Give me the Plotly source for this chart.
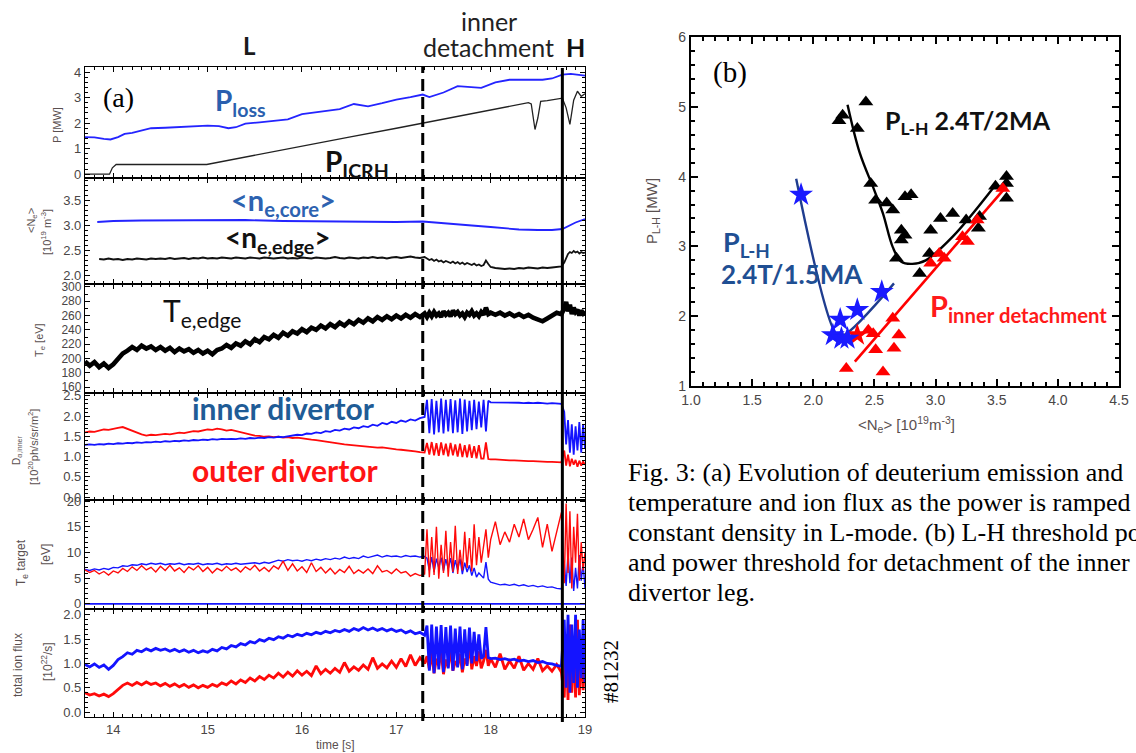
import plotly.graph_objects as go

W, H = 1136, 753

# ---------------- (a) time bases [s] ----------------
t_a = [13.70, 13.75, 13.80, 13.85, 13.90, 13.95, 14.00, 14.05, 14.10, 14.15,
       14.20, 14.25, 14.30, 14.35, 14.40, 14.45, 14.50, 14.55, 14.60, 14.65,
       14.70, 14.75, 14.80, 14.85, 14.90, 14.95, 15.00, 15.05, 15.10, 15.15,
       15.20, 15.25, 15.30, 15.35, 15.40, 15.45, 15.50, 15.55, 15.60, 15.65,
       15.70, 15.75, 15.80, 15.85, 15.90, 15.95, 16.00, 16.05, 16.10, 16.15,
       16.20, 16.25, 16.30, 16.35, 16.40, 16.45, 16.50, 16.55, 16.60, 16.65,
       16.70, 16.75, 16.80, 16.85, 16.90, 16.95, 17.00, 17.05, 17.10, 17.15,
       17.20, 17.25, 17.30]
t_osc = [17.325, 17.35, 17.375, 17.40, 17.425, 17.45, 17.475, 17.50, 17.525, 17.55,
         17.575, 17.60, 17.625, 17.65, 17.675, 17.70, 17.725, 17.75, 17.775, 17.80,
         17.825, 17.85, 17.875, 17.90, 17.925, 17.95, 17.975, 18.00]
t_b = [18.05, 18.10, 18.15, 18.20, 18.25, 18.30, 18.35, 18.40, 18.45, 18.50,
       18.55, 18.60, 18.65, 18.70, 18.75]
t_h = [18.78, 18.80, 18.82, 18.84, 18.86, 18.88, 18.90, 18.92, 18.94, 18.96,
       18.98, 19.00]
t_full = t_a + t_osc + t_b + t_h

t_detach = 17.28
t_LH = 18.76

# P [MW]
t_ploss = [13.70, 13.80, 13.90, 13.97, 14.05, 14.12, 14.20, 14.30, 14.40, 14.55,
           14.70, 14.85, 15.00, 15.12, 15.22, 15.30, 15.40, 15.55, 15.70, 15.85,
           16.00, 16.20, 16.40, 16.55, 16.70, 16.85, 17.00, 17.15, 17.28, 17.35,
           17.50, 17.65, 17.80, 17.90, 18.05, 18.20, 18.40, 18.55, 18.65, 18.76,
           18.85, 19.00]
p_loss = [1.45, 1.44, 1.38, 1.36, 1.45, 1.58, 1.62, 1.72, 1.80, 1.82,
          1.84, 1.86, 1.90, 1.88, 1.80, 1.84, 1.98, 2.03, 2.08, 2.15,
          2.35, 2.45, 2.55, 2.75, 2.66, 2.78, 2.92, 3.02, 3.12, 3.02,
          3.20, 3.45, 3.42, 3.38, 3.60, 3.70, 3.70, 3.70, 3.75, 3.90,
          3.93, 3.86]
t_icrh = [13.70, 13.96, 13.99, 14.03, 14.99, 15.50, 16.00, 16.50, 17.00, 17.28,
          17.80, 18.20, 18.40, 18.43, 18.47, 18.50, 18.53, 18.60, 18.76, 18.80,
          18.84, 18.88, 18.92, 18.96, 19.00]
p_icrh = [0.0, 0.0, 0.25, 0.38, 0.38, 0.75, 1.10, 1.45, 1.80, 2.00,
          2.35, 2.65, 2.80, 2.75, 1.75, 2.20, 2.85, 2.88, 2.98, 2.60,
          1.95, 2.90, 3.25, 3.05, 3.15]

# <N_e> [1e19 m^-3]
t_necore = [13.83, 14.0, 14.3, 14.6, 15.0, 15.4, 15.8, 16.2, 16.6, 17.0,
            17.28, 17.45, 17.6, 17.8, 18.0, 18.15, 18.3, 18.5, 18.65, 18.76,
            18.82, 18.9, 19.0]
ne_core = [3.06, 3.08, 3.09, 3.09, 3.09, 3.10, 3.08, 3.07, 3.06, 3.06,
           3.07, 3.04, 3.02, 2.99, 2.96, 2.93, 2.91, 2.90, 2.90, 2.92,
           2.98, 3.05, 3.12]
ne_edge = [None, None, None, 2.32, 2.31, 2.33, 2.31, 2.32, 2.30, 2.32,
           2.31, 2.33, 2.32, 2.31, 2.33, 2.32, 2.33, 2.32, 2.34, 2.32,
           2.33, 2.34, 2.32, 2.34, 2.33, 2.35, 2.33, 2.34, 2.33, 2.35,
           2.34, 2.33, 2.35, 2.34, 2.33, 2.35, 2.34, 2.33, 2.35, 2.34,
           2.33, 2.34, 2.35, 2.33, 2.34, 2.33, 2.35, 2.34, 2.33, 2.35,
           2.34, 2.33, 2.34, 2.36, 2.34, 2.33, 2.35, 2.34, 2.33, 2.35,
           2.34, 2.36, 2.34, 2.35, 2.33, 2.35, 2.36, 2.34, 2.35, 2.37,
           2.35, 2.34, 2.36,
           2.33, 2.30, 2.32, 2.28, 2.31, 2.27, 2.29, 2.25, 2.28, 2.26,
           2.24, 2.27, 2.23, 2.26, 2.22, 2.25, 2.21, 2.24, 2.22, 2.20,
           2.23, 2.19, 2.21, 2.18, 2.20, 2.29, 2.22, 2.16,
           2.14, 2.13, 2.12, 2.13, 2.12, 2.14, 2.13, 2.15, 2.14, 2.13,
           2.15, 2.14, 2.15, 2.16, 2.17,
           2.25, 2.35, 2.42, 2.46, 2.44, 2.48, 2.45, 2.47, 2.43, 2.46,
           2.44, 2.45]

# T_e edge [eV]
te_edge = [196, 190, 195, 188, 193, 187, 192, 199, 207, 211,
           216, 212, 218, 214, 217, 212, 216, 211, 215, 209,
           214, 210, 213, 208, 212, 207, 211, 206, 212, 214,
           219, 215, 221, 218, 224, 220, 227, 223, 230, 227,
           233, 229, 236, 232, 238, 235, 241, 237, 243, 240,
           246, 242, 248, 244, 250, 246, 252, 248, 254, 250,
           256, 252, 258, 254, 259, 255, 260, 256, 261, 257,
           262, 258, 263,
           258, 264, 259, 265, 260, 263, 258, 266, 261, 264,
           259, 267, 262, 265, 260, 263, 258, 264, 261, 266,
           260, 263, 259, 265, 261, 271, 262, 264,
           261, 264, 260, 263, 259, 262, 258, 261, 257, 254,
           252, 256, 261, 264, 262,
           270, 279, 266, 275, 262, 271, 265, 268, 260, 267,
           263, 266]

# D_alpha [1e20 ph/s/sr/m2]
d_inner = [1.29, 1.30, 1.29, 1.31, 1.30, 1.32, 1.31, 1.33, 1.32, 1.34,
           1.33, 1.35, 1.34, 1.36, 1.35, 1.37, 1.36, 1.38, 1.37, 1.39,
           1.38, 1.40, 1.39, 1.41, 1.40, 1.42, 1.41, 1.43, 1.42, 1.44,
           1.43, 1.44, 1.43, 1.45, 1.44, 1.46, 1.45, 1.47, 1.46, 1.48,
           1.47, 1.49, 1.48, 1.50, 1.51, 1.54, 1.53, 1.57, 1.56, 1.60,
           1.58, 1.63, 1.61, 1.66, 1.64, 1.69, 1.67, 1.72, 1.70, 1.75,
           1.73, 1.79, 1.76, 1.83, 1.80, 1.86, 1.83, 1.89, 1.86, 1.92,
           1.89, 1.95, 1.98,
           2.40, 1.58, 2.42, 1.55, 2.38, 1.60, 2.43, 1.57, 2.40, 1.62,
           2.42, 1.58, 2.39, 1.60, 2.43, 1.56, 2.41, 1.62, 2.38, 1.65,
           2.40, 1.68, 2.36, 1.72, 2.40, 1.62, 2.38, 2.34,
           2.34, 2.33, 2.34, 2.33, 2.34, 2.33, 2.32, 2.33, 2.32, 2.33,
           2.32, 2.31, 2.32, 2.31, 2.30,
           2.10, 1.30, 1.90, 1.10, 1.80, 1.05, 1.75, 1.15, 1.85, 1.10,
           1.80, 1.20]
d_outer = [1.60, 1.62, 1.61, 1.64, 1.67, 1.66, 1.69, 1.71, 1.73, 1.68,
           1.63, 1.58, 1.55, 1.52, 1.54, 1.53, 1.55, 1.56, 1.55, 1.57,
           1.59, 1.58, 1.61, 1.63, 1.62, 1.65, 1.67, 1.66, 1.69, 1.67,
           1.64, 1.66, 1.63, 1.60, 1.57, 1.55, 1.52, 1.51, 1.49, 1.50,
           1.48, 1.49, 1.47, 1.48, 1.46, 1.47, 1.45, 1.44, 1.42, 1.41,
           1.39, 1.38, 1.36, 1.34, 1.32, 1.30, 1.29, 1.28, 1.27, 1.26,
           1.25, 1.24, 1.22, 1.23, 1.21, 1.20, 1.18, 1.17, 1.16, 1.14,
           1.13, 1.11, 1.10,
           1.34, 1.05, 1.36, 1.03, 1.33, 1.02, 1.35, 1.04, 1.32, 1.01,
           1.34, 1.03, 1.30, 1.00, 1.32, 0.99, 1.28, 0.98, 1.30, 0.97,
           1.26, 0.96, 1.28, 0.95, 0.95, 1.35, 0.94, 0.93,
           0.93, 0.92, 0.92, 0.91, 0.91, 0.90, 0.90, 0.89, 0.89, 0.88,
           0.88, 0.87, 0.87, 0.86, 0.86,
           1.15, 0.78, 1.05, 0.76, 0.95, 0.80, 0.92, 0.75, 0.90, 0.78,
           0.88, 0.80]

# T_e target [eV]
tt_outer = [6.6, 6.1, 6.5, 5.8, 6.3, 5.6, 6.4, 6.0, 6.9, 6.3,
            7.2, 6.5, 7.4, 6.6, 7.1, 6.2, 7.3, 6.5, 7.5, 6.4,
            7.0, 6.1, 7.2, 6.6, 7.4, 6.3, 7.1, 6.0, 6.9, 6.4,
            7.3, 6.5, 7.0, 6.2, 7.2, 6.6, 7.5, 6.4, 7.1, 6.3,
            7.4, 6.8, 8.3, 6.5, 7.8, 6.4, 7.2, 6.1, 8.0, 6.3,
            7.1, 6.0, 6.9, 5.8, 6.7, 6.1, 7.3, 5.9, 6.6, 6.0,
            6.8, 5.9, 7.4, 6.2, 6.5, 5.9, 6.8, 6.0, 6.3, 5.4,
            5.9, 5.5, 5.8,
            14.5, 5.2, 13.0, 5.6, 15.0, 4.9, 11.5, 6.0, 14.2, 5.3,
            12.0, 6.2, 15.2, 5.8, 10.5, 6.5, 14.0, 7.0, 12.8, 6.3,
            15.5, 7.5, 13.0, 8.0, 11.0, 14.5, 9.0, 12.5,
            16.0, 11.5, 14.0, 12.0, 15.5, 13.0, 16.5, 12.5, 14.5, 16.8,
            11.0, 15.5, 10.2, 14.0, 17.8,
            4.0, 19.5, 6.0, 18.0, 3.0, 15.0, 8.0, 17.5, 4.5, 12.0,
            6.5, 10.0]
tt_inner = [6.7, 6.5, 6.8, 6.6, 6.9, 6.7, 7.1, 7.0, 7.4, 7.3,
            7.6, 7.5, 7.8, 7.6, 7.9, 7.7, 7.9, 7.6, 7.8, 7.7,
            7.9, 7.6, 7.8, 7.7, 7.9, 7.6, 7.8, 7.7, 7.9, 7.6,
            7.8, 7.7, 7.9, 7.7, 7.8, 7.9, 8.0, 7.8, 8.1, 7.9,
            8.2, 8.5, 8.3, 8.6, 8.4, 8.5, 8.3, 8.6, 8.4, 8.7,
            8.5, 8.8, 8.6, 8.9, 8.7, 9.1, 8.8, 9.0, 8.8, 9.3,
            9.0, 9.2, 9.5, 9.1, 9.4, 9.2, 9.3, 9.1, 9.4, 9.2,
            9.3, 9.1, 9.2,
            8.9, 6.5, 9.1, 6.2, 8.8, 7.0, 9.0, 6.4, 8.7, 6.8,
            8.9, 6.0, 8.5, 6.6, 8.8, 5.8, 8.0, 6.2, 7.5, 5.5,
            7.0, 5.2, 6.0, 5.5, 5.0, 8.1, 4.8, 4.2,
            3.9, 3.7, 3.8, 3.6, 3.8, 3.5, 3.7, 3.4, 3.6, 3.3,
            3.5, 3.2, 3.3, 3.0, 2.9,
            8.0, 3.5, 10.0, 4.0, 9.0, 2.5, 7.0, 3.0, 9.5, 4.5,
            8.0, 3.0]
t_base = [13.70, 17.30, 18.76, 19.00]
tt_base = [0.0, 0.0, 0.0, 0.0]

# total ion flux [1e22 /s]
flux_inner = [0.98, 0.93, 0.99, 0.92, 0.97, 0.88, 0.96, 1.08, 1.14, 1.22,
              1.19, 1.27, 1.24, 1.30, 1.26, 1.31, 1.27, 1.30, 1.25, 1.29,
              1.24, 1.28, 1.23, 1.27, 1.22, 1.26, 1.23, 1.29, 1.26, 1.33,
              1.30, 1.37, 1.34, 1.41, 1.38, 1.45, 1.42, 1.49, 1.46, 1.52,
              1.49, 1.55, 1.52, 1.58, 1.55, 1.60, 1.57, 1.62, 1.59, 1.64,
              1.61, 1.66, 1.63, 1.68, 1.65, 1.70, 1.66, 1.72, 1.68, 1.74,
              1.69, 1.73, 1.68, 1.72, 1.67, 1.71, 1.66, 1.69, 1.63, 1.67,
              1.61, 1.64, 1.58,
              1.78, 0.85, 1.80, 0.80, 1.76, 0.88, 1.79, 0.82, 1.75, 0.90,
              1.78, 0.85, 1.72, 0.92, 1.76, 0.88, 1.70, 0.95, 1.74, 1.00,
              1.65, 1.05, 1.60, 1.10, 1.15, 1.75, 1.12, 1.10,
              1.11, 1.08, 1.10, 1.07, 1.09, 1.05, 1.07, 1.04, 1.06, 1.02,
              1.04, 1.00, 0.99, 0.96, 0.94,
              1.90, 0.50, 2.00, 0.40, 1.80, 0.60, 2.00, 0.50, 1.70, 0.70,
              1.90, 0.60]
flux_outer = [0.40, 0.35, 0.38, 0.33, 0.37, 0.32, 0.38, 0.47, 0.55, 0.60,
              0.55, 0.61, 0.56, 0.62, 0.57, 0.60, 0.54, 0.59, 0.53, 0.58,
              0.52, 0.57, 0.51, 0.56, 0.50, 0.55, 0.51, 0.57, 0.53, 0.60,
              0.56, 0.64, 0.58, 0.66, 0.61, 0.70, 0.64, 0.73, 0.67, 0.76,
              0.70, 0.80, 0.72, 0.82, 0.74, 0.85, 0.76, 0.84, 0.75, 0.95,
              0.79, 0.88, 0.80, 0.90, 0.82, 1.02, 0.84, 0.93, 0.86, 0.97,
              0.88, 1.12, 0.90, 0.99, 0.91, 1.05, 0.92, 1.10, 0.94, 1.18,
              0.96, 1.12, 1.00,
              1.15, 0.88, 1.22, 0.80, 1.10, 0.95, 1.25, 0.78, 1.08, 0.92,
              1.30, 0.85, 1.05, 0.95, 1.20, 0.82, 1.10, 0.98, 1.40, 0.88,
              1.15, 0.95, 1.25, 0.90, 1.05, 1.28, 0.95, 1.10,
              0.92, 1.20, 0.88, 1.05, 0.90, 1.15, 0.86, 1.00, 0.88, 1.10,
              0.85, 0.95, 0.84, 0.98, 0.82,
              0.30, 1.60, 0.25, 1.80, 0.40, 1.50, 0.30, 1.90, 0.35, 1.40,
              0.45, 1.20]

# ---------------- (b) threshold data ----------------
lh2_ne = [2.21, 2.24, 2.43, 2.36, 2.47, 2.51, 2.60, 2.65, 2.75, 2.80,
          2.72, 2.75, 2.72, 2.68, 2.87, 2.95, 2.96, 3.04, 3.14, 3.25,
          3.36, 3.35, 3.49, 3.58, 3.58, 3.58]
lh2_p = [4.80, 4.88, 5.07, 4.69, 3.90, 3.66, 3.62, 3.52, 3.71, 3.74,
         3.23, 3.16, 3.09, 2.83, 2.61, 2.90, 3.23, 3.40, 3.47, 3.38,
         3.43, 3.26, 3.86, 4.00, 3.90, 3.69]
lh2_fit_ne = [2.28, 2.38, 2.50, 2.57, 2.65, 2.72, 2.81, 2.92, 3.14, 3.49]
lh2_fit_p = [5.03, 4.34, 3.80, 3.47, 2.99, 2.78, 2.75, 2.80, 3.14, 3.88]
lh15_ne = [1.90, 2.22, 2.16, 2.23, 2.28, 2.36, 2.56]
lh15_p = [3.74, 1.95, 1.73, 1.68, 1.68, 2.09, 2.35]
lh15_fit_ne = [1.86, 2.19, 2.24, 2.66]
lh15_fit_p = [3.97, 1.74, 1.72, 2.47]
det_ne = [2.27, 2.45, 2.49, 2.51, 2.57, 2.66, 2.70, 2.65, 2.96, 3.03,
          3.07, 3.22, 3.26, 3.34, 3.55]
det_p = [1.25, 1.80, 1.75, 1.52, 1.20, 1.54, 1.73, 1.97, 2.76, 2.90,
         2.83, 3.14, 3.07, 3.38, 3.83]
det_star_ne = [2.36]
det_star_p = [1.73]
det_fit_ne = [2.34, 3.58]
det_fit_p = [1.35, 3.86]

# ---------------- styling ----------------
BLUE = "#1414ff"
RED = "#ff0a0a"
SANS = "Liberation Sans"
CAL = "Lato"
SERIF = "Liberation Serif"
TICKC = "#4a4646"

fig = go.Figure()


def ln(x, y, i, color, width, shape="linear"):
    ax = "" if i == 1 else str(i)
    n = min(len(x), len(y))
    fig.add_trace(go.Scatter(x=x[:n], y=y[:n], mode="lines", xaxis="x" + ax, yaxis="y" + ax,
                             line=dict(color=color, width=width, shape=shape),
                             connectgaps=False, hoverinfo="skip"))


ln(t_ploss, p_loss, 1, "#2424ff", 1.8)
ln(t_icrh, p_icrh, 1, "#222222", 1.3)
ln(t_necore, ne_core, 2, "#2424ff", 1.8)
ln(t_full, ne_edge, 2, "#111111", 1.8)
ln(t_full, te_edge, 3, "#000000", 4.6)
ln(t_full, d_outer, 4, RED, 1.8)
ln(t_full, d_inner, 4, BLUE, 1.8)
ln(t_base, tt_base, 5, BLUE, 1.8)
ln(t_full, tt_inner, 5, BLUE, 1.4)
ln(t_full, tt_outer, 5, RED, 1.4)
ln(t_full, flux_outer, 6, RED, 2.8)
ln(t_full, flux_inner, 6, BLUE, 2.8)


def pts(x, y, color, symbol, size):
    fig.add_trace(go.Scatter(x=x, y=y, mode="markers", xaxis="x7", yaxis="y7",
                             marker=dict(color=color, symbol=symbol, size=size, line=dict(width=0)),
                             hoverinfo="skip"))


ln(lh2_fit_ne, lh2_fit_p, 7, "#000000", 2.4, "spline")
ln(lh15_fit_ne, lh15_fit_p, 7, "#1f3d8f", 2.4, "spline")
ln(det_fit_ne, det_fit_p, 7, "#ff0000", 2.6)
pts(lh2_ne, lh2_p, "#000000", "triangle-up", 13)
pts(det_ne, det_p, "#ff0000", "triangle-up", 13)
pts(det_star_ne, det_star_p, "#ff0000", "star", 17)
pts(lh15_ne, lh15_p, "#1a1aff", "star", 18)

# ---------------- axes ----------------
A_X0, A_X1 = 85, 585
A_PANELS = [(67, 178), (178, 284), (284, 393), (393, 500), (500, 609), (609, 717)]
A_RANGES = [[-0.15, 4.2], [1.82, 3.94], [152, 304], [-0.07, 2.57], [-1, 20.2], [-0.1, 2.12]]
A_DTICK = [1, 0.5, 20, 0.5, 5, 0.5]
A_MINOR = [0.2, 0.1, 10, 0.1, 1, 0.1]
A_FMT = ["d", ".1f", "d", ".1f", "d", ".1f"]

lay = {}
for k in range(6):
    i = k + 1
    sx = "" if i == 1 else str(i)
    top, bot = A_PANELS[k]
    common = dict(showline=True, linecolor="black", linewidth=1.3, mirror="ticks",
                  ticks="inside", tickcolor="black", tickwidth=1, showgrid=False, zeroline=False,
                  automargin=False)
    lay["xaxis" + sx] = dict(domain=[A_X0 / W, A_X1 / W], range=[13.7, 19.0], anchor="y" + sx,
                             tick0=14, dtick=1, ticklen=5,
                             minor=dict(dtick=0.1, tick0=14, ticklen=2.5, ticks="inside",
                                        tickcolor="black", showgrid=False),
                             showticklabels=(i == 6),
                             tickfont=dict(size=13, family=SANS, color=TICKC), **common)
    lay["yaxis" + sx] = dict(domain=[1 - bot / H, 1 - top / H], range=A_RANGES[k], anchor="x" + sx,
                             tick0=0, dtick=A_DTICK[k], ticklen=5, tickformat=A_FMT[k],
                             minor=dict(dtick=A_MINOR[k], tick0=0, ticklen=2.5, ticks="inside",
                                        tickcolor="black", showgrid=False),
                             tickfont=dict(size=13 if k != 2 else 12, family=SANS, color=TICKC),
                             **common)

common_b = dict(showline=True, linecolor="black", linewidth=2.2, mirror="ticks",
                ticks="inside", tickcolor="black", tickwidth=1.5, showgrid=False, zeroline=False,
                automargin=False)
lay["xaxis7"] = dict(domain=[691 / W, 1119 / W], range=[1.0, 4.5], anchor="y7", tick0=1, dtick=0.5,
                     ticklen=7, tickformat=".1f",
                     minor=dict(dtick=0.1, tick0=1, ticklen=3.5, ticks="inside", tickcolor="black",
                                showgrid=False),
                     tickfont=dict(size=14, family=SANS, color=TICKC), **common_b)
lay["yaxis7"] = dict(domain=[1 - 386 / H, 1 - 37 / H], range=[1, 6], anchor="x7", tick0=0, dtick=1,
                     ticklen=7,
                     minor=dict(dtick=0.2, tick0=0, ticklen=3.5, ticks="inside", tickcolor="black",
                                showgrid=False),
                     tickfont=dict(size=14, family=SANS, color=TICKC), **common_b)

fig.update_layout(template="none", width=W, height=H, autosize=False,
                  margin=dict(l=0, r=0, t=0, b=0, pad=0, autoexpand=False),
                  paper_bgcolor="white", plot_bgcolor="white", showlegend=False, **lay)

# vertical markers in (a)
fig.add_shape(type="line", xref="x6", yref="paper", x0=t_detach, x1=t_detach,
              y0=1 - 721 / H, y1=1 - 66 / H, line=dict(color="black", width=3, dash="12px,6px"))
fig.add_shape(type="line", xref="x6", yref="paper", x0=t_LH, x1=t_LH,
              y0=1 - 722 / H, y1=1 - 68 / H, line=dict(color="black", width=3))


def A(x, y, text, size, color="black", family=CAL, angle=0, xanchor="center", yanchor="middle"):
    fig.add_annotation(x=x / W, y=1 - y / H, xref="paper", yref="paper", text=text, showarrow=False,
                       font=dict(size=size, color=color, family=family), textangle=angle,
                       xanchor=xanchor, yanchor=yanchor)


# headings
A(249, 46, "<b>L</b>", 24, "#1a1a1a")
A(489, 21, "inner", 25, "#222222")
A(488, 47, "detachment", 25, "#222222")
A(575, 47, "<b>H</b>", 25, "#111111")
A(118, 97, "(a)", 28, "black", SERIF)

# in-panel labels (a)
A(240, 102, "<b>P<sub>loss</sub></b>", 28, "#2a5fae")
A(357, 163, "<b>P<sub>ICRH</sub></b>", 28, "#111111")
A(283, 201, "<b>&lt;n<sub>e,core</sub>&gt;</b>", 29, "#2d62b0")
A(278, 239, "<b>&lt;n<sub>e,edge</sub>&gt;</b>", 28, "#111111")
A(202, 312, "T<sub>e,edge</sub>", 30, "#111111")
A(283, 408, "<b>inner divertor</b>", 30, "#1f5c96")
A(285, 470, "<b>outer divertor</b>", 30, "#ff1414")
A(611, 672, "#81232", 21, "black", SERIF, angle=-90)

# axis titles (a)
AT = "#5a5050"
A(57, 125, "P [MW]", 11, AT, SANS, -90)
A(32, 221, "&lt;N<sub>e</sub>&gt;", 11, AT, SANS, -90)
A(46, 232, "[10<sup>19</sup> m<sup>-3</sup>]", 11, AT, SANS, -90)
A(40, 340, "T<sub>e</sub> [eV]", 11, AT, SANS, -90)
A(17, 451, "D<sub>α,inner</sub>", 10, AT, SANS, -90)
A(33, 447, "[10<sup>20</sup>ph/s/sr/m<sup>2</sup>]", 11, AT, SANS, -90)
A(22, 563, "T<sub>e</sub> target", 12, AT, SANS, -90)
A(46, 555, "[eV]", 12, AT, SANS, -90)
A(18, 665, "total ion flux", 12, AT, SANS, -90)
A(47, 662, "[10<sup>22</sup>/s]", 12, AT, SANS, -90)
A(335, 745, "time [s]", 12, AT, SANS)

# (b) labels
A(730, 72, "(b)", 29, "black", SERIF)
A(968, 122, "<b>P<sub>L-H</sub> 2.4T/2MA</b>", 25, "#111111")
A(746, 244, "<b>P<sub>L-H</sub></b>", 27, "#1f4f93")
A(792, 274, "<b>2.4T/1.5MA</b>", 26, "#1f4f93")
A(1018, 307, "<b>P<sub>inner detachment</sub></b>", 29, "#ff1a1a")
A(906, 424, "&lt;N<sub>e</sub>&gt; [10<sup>19</sup>m<sup>-3</sup>]", 15, AT, SANS)
A(653, 211, "P<sub>L-H</sub> [MW]", 15, AT, SANS, -90)

# caption
CAP = ["Fig. 3: (a) Evolution of deuterium emission and",
       "temperature and ion flux as the power is ramped",
       "constant density in L-mode. (b) L-H threshold power",
       "and power threshold for detachment of the inner",
       "divertor leg."]
for j, line in enumerate(CAP):
    A(626, 472 + 30 * j, line, 26, "black", SERIF, xanchor="left")

fig.write_html("out.html", config={"displayModeBar": False},
               post_script="document.body.style.margin='0px';")
